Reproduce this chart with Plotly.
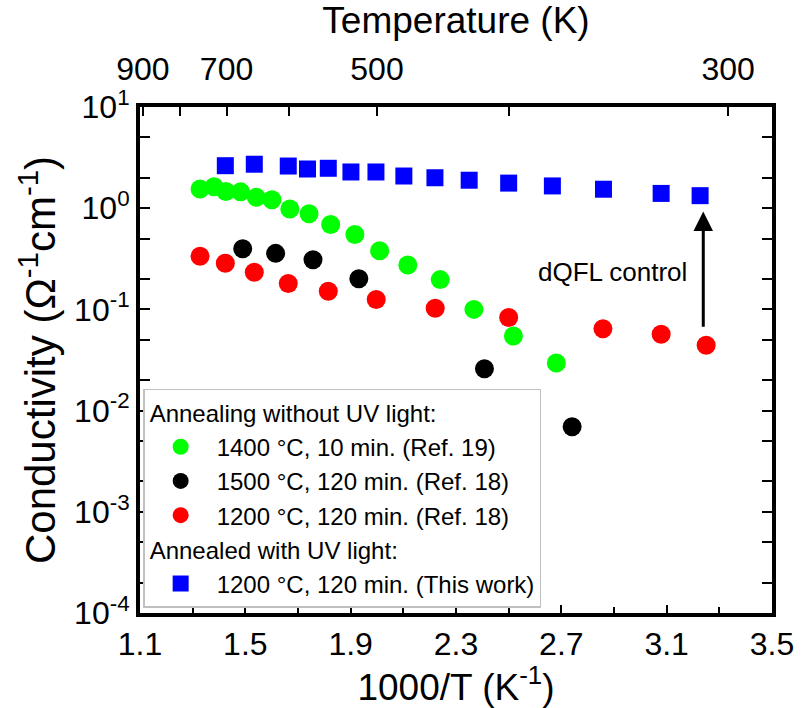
import plotly.graph_objects as go
import numpy as np

# ---- data (1000/T in K^-1, conductivity in Ohm^-1 cm^-1) ----
green_x = [1.328, 1.381, 1.426, 1.482, 1.542, 1.601, 1.669, 1.742, 1.824, 1.916, 2.010, 2.117, 2.240, 2.368, 2.518, 2.681]
green_y = [1.55, 1.63, 1.46, 1.45, 1.28, 1.21, 0.98, 0.88, 0.69, 0.55, 0.38, 0.275, 0.197, 0.100, 0.0545, 0.0295]

black_x = [1.490, 1.615, 1.757, 1.931, 2.408, 2.741]
black_y = [0.398, 0.358, 0.310, 0.201, 0.0259, 0.00693]

red_x = [1.328, 1.424, 1.534, 1.663, 1.815, 1.997, 2.221, 2.500, 2.858, 3.079, 3.250]
red_y = [0.335, 0.286, 0.233, 0.180, 0.151, 0.125, 0.1026, 0.0832, 0.0645, 0.0568, 0.0442]

blue_x = [1.424, 1.534, 1.663, 1.736, 1.815, 1.901, 1.996, 2.102, 2.220, 2.350, 2.500, 2.666, 2.860, 3.079, 3.227]
blue_y = [2.63, 2.72, 2.61, 2.44, 2.48, 2.28, 2.28, 2.08, 2.00, 1.89, 1.77, 1.66, 1.54, 1.40, 1.33]

x_ticks = [1.1, 1.5, 1.9, 2.3, 2.7, 3.1, 3.5]
y_exps = [-4, -3, -2, -1, 0, 1]
temp_ticks = [900, 800, 700, 600, 500, 400, 300]
temp_labels = ["900", "", "700", "", "500", "", "300"]

FONT = "Liberation Sans, Arial, sans-serif"

fig = go.Figure()

fig.add_trace(go.Scatter(x=green_x, y=green_y, mode="markers", name="1400 °C, 10 min. (Ref. 19)",
                         marker=dict(symbol="circle", size=19, color="#00ff00"),
                         legendgroup="g1", legendgrouptitle=dict(text="Annealing without UV light:")))
fig.add_trace(go.Scatter(x=black_x, y=black_y, mode="markers", name="1500 °C, 120 min. (Ref. 18)",
                         marker=dict(symbol="circle", size=19, color="#000000"), legendgroup="g1"))
fig.add_trace(go.Scatter(x=red_x, y=red_y, mode="markers", name="1200 °C, 120 min. (Ref. 18)",
                         marker=dict(symbol="circle", size=19, color="#ff0000"), legendgroup="g1"))
fig.add_trace(go.Scatter(x=blue_x, y=blue_y, mode="markers", name="1200 °C, 120 min. (This work)",
                         marker=dict(symbol="square", size=17, color="#0000ff"),
                         legendgroup="g2", legendgrouptitle=dict(text="Annealed with UV light:")))
# invisible trace to anchor top temperature axis
fig.add_trace(go.Scatter(x=[1.1, 3.5], y=[1, 1], xaxis="x2", mode="markers",
                         marker=dict(opacity=0), showlegend=False, hoverinfo="skip"))

# arrow & label
fig.add_annotation(x=3.239, y=np.log10(0.93), ax=3.239, ay=np.log10(0.065),
                   xref="x", yref="y", axref="x", ayref="y",
                   showarrow=True, arrowhead=2, arrowsize=1.3, arrowwidth=3, arrowcolor="black", text="")
fig.add_annotation(x=2.894, y=np.log10(0.236), xref="x", yref="y", text="dQFL control",
                   showarrow=False, font=dict(family=FONT, size=26, color="black"))

fig.update_layout(
    width=806, height=708,
    margin=dict(l=140, r=24, t=107, b=95),
    plot_bgcolor="white", paper_bgcolor="white",
    font=dict(family=FONT, color="black"),
    showlegend=True,
    legend=dict(x=0.005, y=0.01, xanchor="left", yanchor="bottom",
                bgcolor="white", bordercolor="#c0c0c0", borderwidth=1.5,
                font=dict(family=FONT, size=24, color="black"),
                grouptitlefont=dict(family=FONT, size=24, color="black"),
                tracegroupgap=0, itemsizing="trace", itemwidth=62),
    xaxis=dict(range=[1.1, 3.5], tickvals=x_ticks, ticktext=[f"{v:.1f}" for v in x_ticks],
               ticks="inside", ticklen=8, tickwidth=2, tickcolor="black",
               minor=dict(tickvals=[1.3, 1.7, 2.1, 2.5, 2.9, 3.3], ticks="inside", ticklen=6, tickwidth=2, tickcolor="black"),
               showline=True, linewidth=4, linecolor="black", mirror=True,
               showgrid=False, zeroline=False,
               tickfont=dict(family=FONT, size=32),
               title=dict(text="1000/T (K<sup>-1</sup>)", font=dict(family=FONT, size=37), standoff=2)),
    xaxis2=dict(overlaying="x", side="top", range=[1.1, 3.5], matches="x",
                tickvals=[1000 / t for t in temp_ticks], ticktext=temp_labels,
                ticks="inside", ticklen=9, tickwidth=2, tickcolor="black",
                showgrid=False, zeroline=False, showline=False,
                ticklabelstandoff=20,
                tickfont=dict(family=FONT, size=32),
                title=dict(text="Temperature (K)", font=dict(family=FONT, size=37), standoff=6)),
    yaxis=dict(type="log", range=[-4, 1], tickvals=[10.0 ** e for e in y_exps],
               ticktext=[f"10<sup>{e}</sup>" for e in y_exps],
               ticks="inside", ticklen=10, tickwidth=2, tickcolor="black",
               minor=dict(ticks="inside", ticklen=5, tickwidth=2, tickcolor="black", showgrid=False),
               showline=True, linewidth=4, linecolor="black", mirror="allticks",
               showgrid=False, zeroline=False,
               tickfont=dict(family=FONT, size=32),
               title=dict(text="Conductivity (Ω<sup>-1</sup>cm<sup>-1</sup>)", font=dict(family=FONT, size=42), standoff=6)),
)

fig.write_html("out.html")
